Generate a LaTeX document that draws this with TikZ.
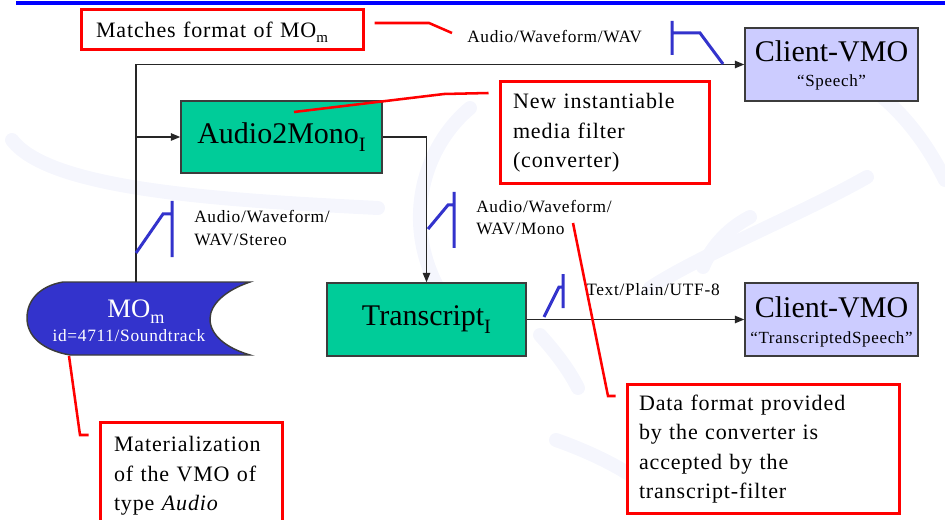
\documentclass[tikz,border=0pt]{standalone}
\usepackage{fontspec}
\setmainfont{Liberation Serif}
\newfontfamily\spacedfamily[LetterSpace=4]{Liberation Serif}
\usetikzlibrary{arrows.meta,calc}

\definecolor{filtergreen}{RGB}{0,204,153}
\definecolor{clientblue}{RGB}{204,204,255}
\definecolor{mediablue}{RGB}{51,51,204}
\definecolor{notered}{RGB}{255,0,0}
\definecolor{framegray}{RGB}{60,60,60}
\definecolor{wmark}{RGB}{245,246,253}
\definecolor{ruleblue}{RGB}{0,0,255}

\newcommand\bigfont{\fontsize{22.5}{27}\selectfont}
\newcommand\notefont{\spacedfamily\fontsize{16.5}{22}\selectfont}
\newcommand\labelfont{\spacedfamily\fontsize{13}{17.25}\selectfont}
\newcommand\subtitlefont{\spacedfamily\fontsize{12.75}{16}\selectfont}
% lowered subscript at 68% of the running size
\makeatletter
\newcommand\subtxt[1]{\raisebox{-0.25em}{\fontsize{\strip@pt\dimexpr\f@size pt*68/100\relax}{0}\selectfont #1}}
\makeatother

\begin{document}
\begin{tikzpicture}[x=0.75pt,y=-0.75pt,
  box/.style={draw=framegray, line width=1.1pt, inner sep=0pt},
  filterbox/.style={box, fill=filtergreen, font=\bigfont},
  clientbox/.style={box, fill=clientblue, minimum width=129.75pt, minimum height=54.75pt},
  note/.style={draw=notered, line width=2.25pt, fill=white, align=left,
    font=\notefont, inner ysep=0pt},
  txt/.style={anchor=base, inner sep=0pt},
  conn/.style={draw=black!85, line width=1.1pt, -{Triangle[length=7pt,width=5.5pt]}},
  callout/.style={draw=notered, line width=1.9pt},
  fmtmark/.style={draw=mediablue, line width=2.25pt},
  fmtlabel/.style={anchor=base west, inner sep=0pt, font=\labelfont},
  wm/.style={draw=wmark, line width=10.5pt, line cap=round},
]
\useasboundingbox (0,0) rectangle (945,520);
\clip (0,0) rectangle (945,520);

% faint background logo strokes
\draw[wm] (12,140) .. controls (50,190) and (220,200) .. (378,208);
\draw[wm] (470,108) .. controls (420,150) and (400,230) .. (445,300);
\draw[wm] (650,288) .. controls (700,255) and (800,215) .. (867,177);
\draw[wm] (540,335) .. controls (558,355) and (570,372) .. (578,388);
\draw[wm] (556,440) .. controls (590,452) and (615,465) .. (632,476);
\draw[wm] (750,217) .. controls (725,230) and (710,250) .. (703,267);
\draw[wm] (880,95) .. controls (910,120) and (930,150) .. (945,180);

% top rule
\draw[ruleblue, line width=2.6pt] (16,3) -- (945,3);

% boxes
\node[clientbox] (speech) at (831.5,64.5) {};
\node[clientbox] (ctvmo) at (831.5,319.5) {};
\node[filterbox, minimum width=150.75pt, minimum height=54pt] (a2m) at (281.5,137)
  {Audio2Mono\subtxt{I}};
\node[filterbox, minimum width=149.25pt, minimum height=54.75pt] (trans) at (426.5,319.5)
  {Transcript\subtxt{I}};

\node[txt, font=\bigfont] (speechtitle) at (831.5,62) {Client-VMO};
\node[txt, font=\subtitlefont] (speechsub) at (831.5,87) {“Speech”};
\node[txt, font=\bigfont] (ctvmotitle) at (831.5,317) {Client-VMO};
\node[txt, font=\subtitlefont] (ctvmosub) at (831.5,343) {“TranscriptedSpeech”};

% stored media object
\draw[framegray, line width=1.1pt, fill=mediablue]
  (63,282) -- (250,282) .. controls (226,290) and (210,304) .. (210,319)
  .. controls (210,335) and (226,348) .. (250,355) -- (70,355)
  .. controls (42,350) and (27,336) .. (27,318)
  .. controls (27,300) and (40,286) .. (63,282) -- cycle;
\coordinate (motop) at (136,282);
\node[txt, text=white, font=\fontsize{20}{24}\selectfont] (motitle) at (136,317) {MO\subtxt{m}};
\node[txt, text=white, font=\spacedfamily\fontsize{13}{16}\selectfont] (moid) at (129,341) {id=4711/Soundtrack};

% data flow
\draw[conn] (motop) |- (speech.west);
\draw[conn] (motop |- a2m.west) -- (a2m.west);
\draw[conn] (a2m.east) -| (trans.north);
\draw[conn] (trans.east) -- (ctvmo.west);

% format marks and labels
\draw[fmtmark] (672,21) -- (672,55) (672,33) -- (700,33) -- (723,64);
\draw[fmtmark] (172,201) -- (172,257) (172,214) -- (163,214) -- (136,253);
\draw[fmtmark] (454,192) -- (454,248) (454,205) -- (448,205) -- (428,229);
\draw[fmtmark] (563,274) -- (563,308) (563,287) -- (559,287) -- (544,317);

\node[fmtlabel] (fmtwav) at (467,43) {Audio/Waveform/WAV};
\node[fmtlabel] (fmtstereo) at (194,223) {Audio/Waveform/};
\node[fmtlabel] (fmtstereob) at (194,246) {WAV/Stereo};
\node[fmtlabel] (fmtmono) at (476,213) {Audio/Waveform/};
\node[fmtlabel] (fmtmonob) at (476,235) {WAV/Mono};
\node[fmtlabel] (fmttext) at (586,295) {Text/Plain/UTF-8};

% notes
\node[note, minimum width=211.5pt, minimum height=30pt, text width=189pt, inner xsep=11.25pt,
  text height=14.5pt, text depth=3.5pt]
  (matches) at (222,30) {Matches format of MO\subtxt{m}};
\node[note, minimum width=156.75pt, minimum height=76.5pt, text width=137.25pt, inner xsep=9.75pt]
  (newf) at (604.5,133) {New instantiable\\media filter\\(converter)};
\node[note, minimum width=204pt, minimum height=96.75pt, text width=186pt, inner xsep=9pt]
  (dataf) at (763,449) {Data format provided\\by the converter is\\accepted by the\\transcript-filter};
\node[note, minimum width=136.5pt, minimum height=81pt, text width=115.5pt, inner xsep=10.5pt]
  (matz) at (191,476) {Materialization\\of the VMO of\\type \textit{Audio}};

% callout lines
\coordinate (c1) at (452,33);
\coordinate (c2) at (294,112);
\coordinate (c3) at (573,223);
\coordinate (c4) at (69,356);
\draw[callout] ($(matches.east |- 0,23)+(10,0)$) -- (429,23) -- (c1);
\draw[callout] ($(newf.west |- 0,93)+(-10,0)$) -- (444,94) -- (c2);
\draw[callout] ($(dataf.west |- 0,396)+(-10,0)$) -- (608,396) -- (c3);
\draw[callout] ($(matz.west |- 0,435)+(-10,0)$) -- (80,435) -- (c4);
\end{tikzpicture}
\end{document}
